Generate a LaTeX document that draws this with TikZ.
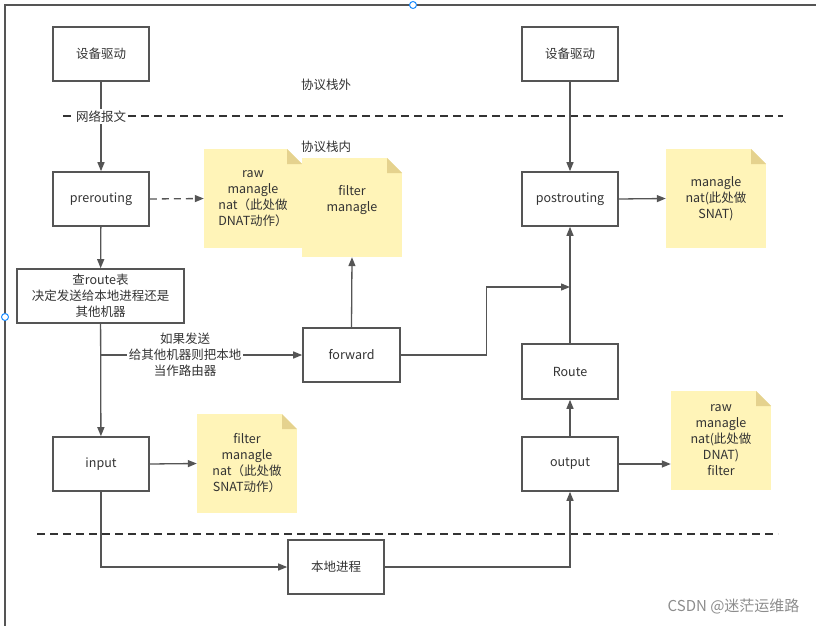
\documentclass[tikz,border=0pt]{standalone}
\usepackage{fontspec}
\setmainfont{Noto Sans CJK SC}
\usetikzlibrary{arrows.meta,calc}
\definecolor{ln}{HTML}{555555}
\definecolor{tx}{HTML}{333333}
\definecolor{notey}{HTML}{FFF4B8}
\definecolor{foldc}{HTML}{E5D28E}
\definecolor{handle}{HTML}{1A8CFF}
\begin{document}
\begin{tikzpicture}[x=1pt,y=-1pt,
  txt/.style={text=tx,font=\fontsize{12.5}{16}\selectfont,align=center},
  box/.style={txt,draw=ln,line width=1.6pt,minimum width=96pt,minimum height=54pt,inner sep=0pt},
  note/.style={txt,fill=notey,minimum width=99pt,minimum height=99pt,inner sep=0pt,
    path picture={
      \fill[white] (path picture bounding box.north east) -- ++(-15pt,0pt) -- ++(15pt,-15pt) -- cycle;
      \fill[foldc] ($(path picture bounding box.north east)+(-15pt,0pt)$) -- ++(0pt,-15pt) -- ++(15pt,0pt) -- cycle;
    }},
  conn/.style={draw=ln,line width=1.3pt,-{Triangle[length=9pt,width=7pt]}},
  sep/.style={draw=tx,line width=2pt,dash pattern=on 8pt off 5pt},
  lbl/.style={txt,fill=white,inner sep=1.5pt},
  hnd/.style={circle,draw=handle,fill=white,line width=1pt,minimum size=7pt,inner sep=0pt}]
\useasboundingbox (0,0) rectangle (816,626);
% frame
\draw[ln,line width=2pt] (5,626) -- (5,5) -- (816,5);
% separators
\draw[sep] (63,116) -- (783,116);
\draw[sep] (37,534) -- (778,534);
\node[txt] (outer) at (326,85) {协议栈外};
\node[txt] (inner) at (326,147) {协议栈内};
% boxes
\node[box] (dev1) at (101,54) {设备驱动};
\node[box] (dev2) at (570,54) {设备驱动};
\node[box] (pre) at (101,199) {prerouting};
\node[box] (post) at (570,199) {postrouting};
\node[box,minimum width=167pt] (route) at (100.5,296) {查route表\\决定发送给本地进程还是\\其他机器};
\node[box,minimum width=97pt] (fwd) at (351.5,355) {forward};
\node[box,minimum height=55pt] (rt) at (570,371.5) {Route};
\node[box] (inp) at (101,464) {input};
\node[box] (out) at (570,464) {output};
\node[box] (local) at (336,567) {本地进程};
% notes
\node[note,minimum width=98pt] (n1) at (253,198.5) {raw\\managle\\nat（此处做\\DNAT动作）};
\node[note,minimum width=100pt] (n2) at (352,207.5) {};
\node[txt] (n2t) at (352,200) {filter\\managle};
\node[note,minimum width=100pt] (n3) at (247,463.5) {filter\\managle\\nat（此处做\\SNAT动作）};
\node[note,minimum width=100pt] (n4) at (716,198.5) {managle\\nat(此处做\\SNAT)};
\node[note,minimum width=100pt] (n5) at (721,440.5) {raw\\managle\\nat(此处做\\DNAT)\\filter};
% connectors
\draw[conn] (dev1) -- node[lbl,pos=0.39] (pkt) {网络报文} (pre);
\draw[conn] (dev2) -- (post);
\draw[conn] (pre) -- (route);
\draw[conn] (route) -- (inp);
\draw[conn] (route.south |- fwd.west) -- node[lbl,pos=0.42] (brl) {如果发送\\给其他机器则把本地\\当作路由器} (fwd.west);
\coordinate (join) at (570,287);
\draw[conn] (fwd.east) -- ++(86pt,0pt) |- (join);
\draw[conn] (rt) -- (post);
\draw[conn] (out) -- (rt);
\draw[conn] (inp.south) |- (local.west);
\draw[conn] (local.east) -| (out.south);
\draw[conn,dash pattern=on 7pt off 5pt] (pre.east) -- (n1.west);
\draw[conn] (fwd.north) -- (n2.south);
\draw[conn] (inp.east) -- (n3.west);
\draw[conn] (post.east) -- (n4.west);
\draw[conn] (out.east) -- (n5.west |- out.east);
% handles
\node[hnd] (h1) at (413,5) {};
\node[hnd] (h2) at (5,317) {};
% watermark
\node[anchor=east,text=black!45,font=\fontsize{15}{18}\selectfont] (wm) at (803,606) {CSDN @迷茫运维路};
\end{tikzpicture}
\end{document}
